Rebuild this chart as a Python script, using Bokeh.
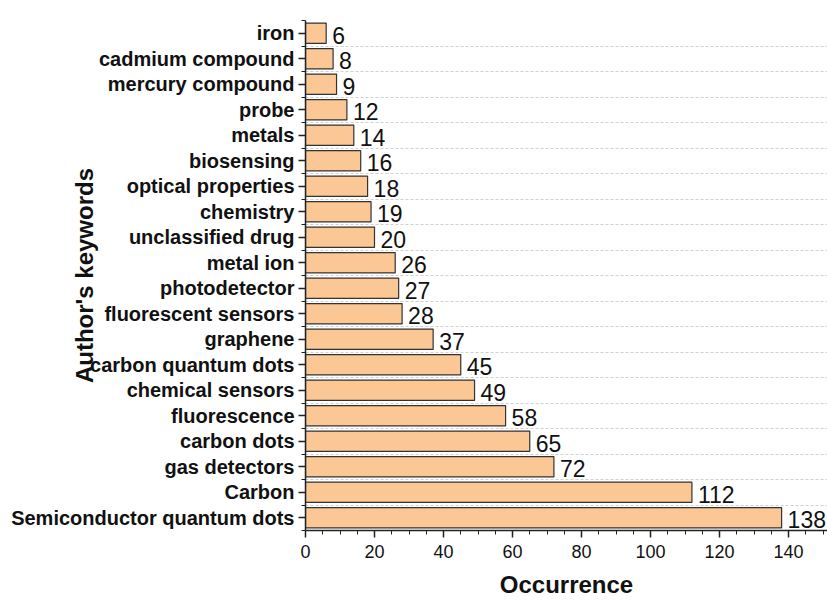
from bokeh.plotting import figure
from bokeh.models import ColumnDataSource, FixedTicker, Range1d
from bokeh.core.properties import value
from bokeh.embed import file_html
from bokeh.resources import INLINE

keywords = ["Semiconductor quantum dots", "Carbon", "gas detectors", "carbon dots",
            "fluorescence", "chemical sensors", "carbon quantum dots", "graphene",
            "fluorescent sensors", "photodetector", "metal ion", "unclassified drug",
            "chemistry", "optical properties", "biosensing", "metals", "probe",
            "mercury compound", "cadmium compound", "iron"]
occurrence = [138, 112, 72, 65, 58, 49, 45, 37, 28, 27, 26, 20, 19, 18, 16, 14, 12, 9, 8, 6]
x_ticks = [0, 20, 40, 60, 80, 100, 120, 140]

n = len(keywords)
ypos = list(range(1, n + 1))
src = ColumnDataSource(dict(y=ypos, v=occurrence, lab=[str(o) for o in occurrence]))

FONT = "Liberation Sans"

p = figure(width=827, height=601, output_backend="svg", toolbar_location=None,
           x_range=Range1d(0, 151.3), y_range=Range1d(0.5, n + 0.5),
           min_border_left=305, min_border_right=0, min_border_top=20, min_border_bottom=71)
p.outline_line_color = None
p.background_fill_color = "white"

p.hbar(y="y", right="v", left=0, height=0.8, source=src,
       fill_color="#FBC795", line_color="#333333", line_width=1.2)

p.text(x="v", y="y", text="lab", source=src, x_offset=6, y_offset=2,
       text_font=value(FONT), text_font_size="23px", text_baseline="middle",
       text_align="left", text_color="#111111")

# x axis
xa = p.xaxis[0]
xa.ticker = FixedTicker(ticks=x_ticks, minor_ticks=list(range(0, 155, 5)))
xa.major_label_text_font = FONT
xa.major_label_text_font_size = "18px"
xa.major_label_text_color = "#111111"
xa.major_tick_out = 7
xa.major_tick_in = 0
xa.minor_tick_out = 4
xa.minor_tick_in = 0
xa.axis_line_width = 1.5
xa.major_tick_line_width = 1.5
xa.axis_line_color = "#222222"
xa.major_tick_line_color = "#222222"
xa.minor_tick_line_color = "#222222"
xa.major_label_standoff = 7
xa.axis_label = "Occurrence"
xa.axis_label_text_font = FONT
xa.axis_label_text_font_size = "24px"
xa.axis_label_text_font_style = "bold"
xa.axis_label_text_color = "#111111"
xa.axis_label_standoff = 10

# y axis
ya = p.yaxis[0]
ya.ticker = FixedTicker(ticks=ypos, minor_ticks=[i + 0.5 for i in range(0, n + 1)])
ya.major_label_overrides = {i: k for i, k in zip(ypos, keywords)}
ya.major_label_text_font = FONT
ya.major_label_text_font_size = "20px"
ya.major_label_text_font_style = "bold"
ya.major_label_text_color = "#111111"
ya.major_tick_out = 7
ya.major_tick_in = 0
ya.minor_tick_out = 4
ya.minor_tick_in = 0
ya.axis_line_width = 1.5
ya.major_tick_line_width = 1.5
ya.axis_line_color = "#222222"
ya.major_tick_line_color = "#222222"
ya.minor_tick_line_color = "#222222"
ya.major_label_standoff = 4
ya.axis_label = "Author's keywords"
ya.axis_label_text_font = FONT
ya.axis_label_text_font_size = "24px"
ya.axis_label_text_font_style = "bold"
ya.axis_label_text_color = "#111111"
ya.axis_label_standoff = -90

p.xgrid.grid_line_color = None
p.ygrid.ticker = FixedTicker(ticks=[i + 0.5 for i in range(1, n)])
p.ygrid.grid_line_color = "#d0d0d0"
p.ygrid.grid_line_dash = "3 2"
p.ygrid.grid_line_width = 1

open("out.html", "w").write(file_html(p, INLINE))
